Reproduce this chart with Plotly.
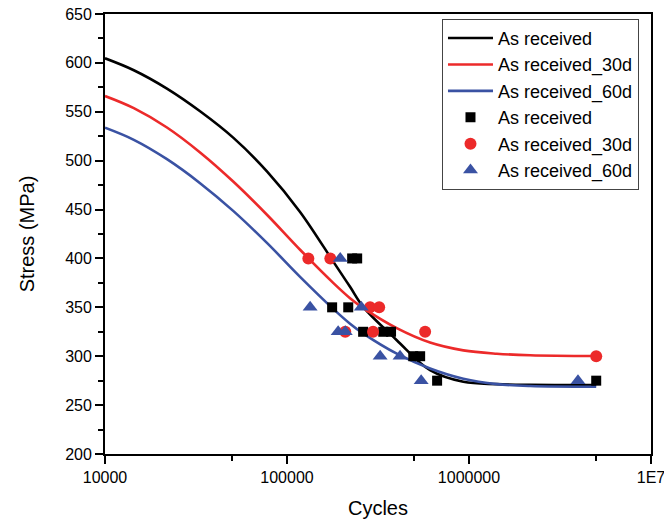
import plotly.graph_objects as go

# ---- fitted curves ----
curve_cycles = [10000, 14400, 21900, 33300, 50800, 77600, 118000, 180000, 222000,
                263000, 401000, 611000, 931000, 1420000, 2170000, 5000000]
curve_as_received = [604.7, 592.5, 573.7, 550.5, 523.3, 489.1, 447.6, 396.5, 371.0,
                     350.2, 316.4, 285.7, 273.8, 271.5, 270.8, 270.6]
curve_30d = [566.1, 553.7, 533.9, 508.4, 478.4, 444.7, 408.9, 374.8, 359.4,
             349.2, 328.7, 314.0, 306.0, 302.6, 301.0, 300.2]
curve_60d = [533.7, 521.3, 501.5, 477.0, 448.4, 415.9, 381.2, 348.2, 333.3,
             323.1, 302.6, 287.5, 277.0, 271.5, 269.5, 268.8]

# ---- experimental points ----
pts_ar_cycles = [228000, 243000, 177000, 217000, 262000, 338000, 373000, 494000, 539000, 668000, 5000000]
pts_ar_stress = [400, 400, 350, 350, 325, 325, 325, 300, 300, 275, 275]
pts_30_cycles = [131000, 173000, 286000, 321000, 209000, 297000, 574000, 5000000]
pts_30_stress = [400, 400, 350, 350, 325, 325, 325, 300]
pts_60_cycles = [196000, 134000, 256000, 191000, 209000, 325000, 418000, 546000, 3970000]
pts_60_stress = [400, 350, 350, 325, 325, 300, 300, 275, 275]

x_tickvals = [10000, 100000, 1000000, 10000000]
x_ticktext = ["10000", "100000", "1000000", "1E7"]
x_minor_tickvals = [50000, 500000, 5000000]
y_tickvals = [200, 250, 300, 350, 400, 450, 500, 550, 600, 650]

BLACK = "#000000"
RED = "#EC2A2A"
BLUE = "#3A52A3"
FONT = "Liberation Sans, Arial, sans-serif"

fig = go.Figure()
fig.add_trace(go.Scatter(x=curve_cycles, y=curve_as_received, mode="lines", name="As received",
                         line=dict(color=BLACK, width=2.6, shape="spline", smoothing=1.0)))
fig.add_trace(go.Scatter(x=curve_cycles, y=curve_30d, mode="lines", name="As received_30d",
                         line=dict(color=RED, width=2.6, shape="spline", smoothing=1.0)))
fig.add_trace(go.Scatter(x=curve_cycles, y=curve_60d, mode="lines", name="As received_60d",
                         line=dict(color=BLUE, width=2.6, shape="spline", smoothing=1.0)))
fig.add_trace(go.Scatter(x=pts_ar_cycles, y=pts_ar_stress, mode="markers", name="As received",
                         marker=dict(symbol="square", size=10, color=BLACK)))
fig.add_trace(go.Scatter(x=pts_30_cycles, y=pts_30_stress, mode="markers", name="As received_30d",
                         marker=dict(symbol="circle", size=12, color=RED)))
fig.add_trace(go.Scatter(x=pts_60_cycles, y=pts_60_stress, mode="markers", name="As received_60d",
                         marker=dict(symbol="triangle-up", size=13, color=BLUE)))

fig.update_layout(
    width=664, height=522,
    margin=dict(l=105, r=13, t=14, b=68, autoexpand=False),
    paper_bgcolor="white", plot_bgcolor="white",
    font=dict(family=FONT, color="#000000", size=16),
    showlegend=True,
    hovermode=False,
    legend=dict(x=0.978, y=0.989, xanchor="right", yanchor="top",
                bgcolor="white", bordercolor="#444444", borderwidth=1,
                font=dict(family=FONT, size=18), tracegroupgap=0,
                itemwidth=45),
)
fig.update_xaxes(
    type="log", range=[4, 7], automargin=False, ticklabeloverflow="allow",
    tickvals=x_tickvals, ticktext=x_ticktext,
    ticks="outside", ticklen=8, tickwidth=1.5, tickcolor="#000",
    showline=True, linecolor="#000", linewidth=1.8, mirror=True,
    showgrid=False, zeroline=False,
    tickfont=dict(size=16),
    minor=dict(tickvals=x_minor_tickvals, ticks="outside", ticklen=5,
               tickwidth=1.5, tickcolor="#000", showgrid=False),
    title=dict(text="Cycles", font=dict(size=20), standoff=16),
)
fig.update_yaxes(
    range=[200, 650], tickvals=y_tickvals, automargin=False, ticklabeloverflow="allow",
    ticks="outside", ticklen=8, tickwidth=1.5, tickcolor="#000",
    showline=True, linecolor="#000", linewidth=1.8, mirror=True,
    showgrid=False, zeroline=False,
    tickfont=dict(size=16),
    minor=dict(dtick=25, ticks="outside", ticklen=5, tickwidth=1.5,
               tickcolor="#000", showgrid=False),
    title=dict(text="Stress (MPa)", font=dict(size=20), standoff=25),
)

# remove the browser's default 8px body margin so the figure sits at the window origin
fig.write_html("out.html",
               config={"displayModeBar": False},
               post_script="document.body.style.margin='0px';document.body.style.overflow='hidden';")
